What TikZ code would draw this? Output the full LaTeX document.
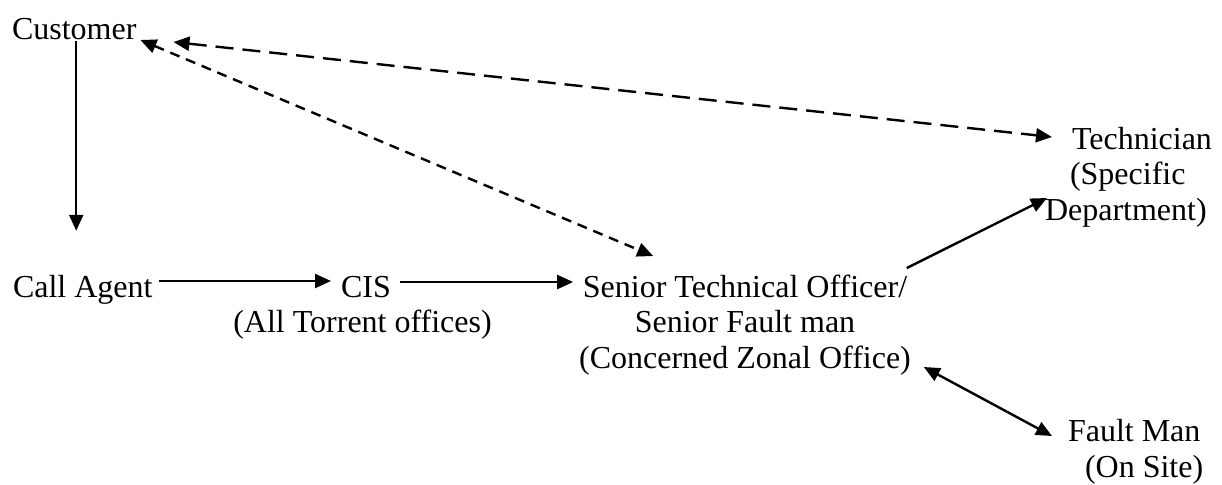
\documentclass[tikz,border=0pt]{standalone}
\usepackage{fontspec}
\setmainfont{Liberation Serif}
\usetikzlibrary{arrows.meta,calc}
\begin{document}
\begin{tikzpicture}[x=0.5pt,y=-0.5pt,
  lbl/.style={inner sep=0pt, outer sep=0pt, font=\fontsize{16}{17.6}\selectfont},
  tipA/.tip={Triangle[length=8pt,width=7pt]},
  conn/.style={line width=1.2pt, -tipA},
  bconn/.style={line width=1.2pt, tipA-tipA},
  longdash/.style={dash pattern=on 9pt off 4.5pt},
  shortdash/.style={dash pattern=on 5pt off 3.5pt}]
\useasboundingbox (0,0) rectangle (1222,484);

\node[lbl, anchor=base west] (cust) at (12,39) {Customer};
\node[lbl, anchor=base west] (call) at (13,297) {Call Agent};
\node[lbl, anchor=base west] (cis) at (341,297) {CIS};
\node[lbl, anchor=base] (allt) at (362.5,332) {(All Torrent offices)};
\node[lbl, anchor=base, align=center] (sen) at (745,368)
  {Senior Technical Officer/\\Senior Fault man\\(Concerned Zonal Office)};
\node[lbl, anchor=base west, align=left] (tech) at (1045,220)
  {\hspace{13.5pt}Technician\\\hspace{12.5pt}(Specific\\Department)};
\node[lbl, anchor=base west, align=left] (fault) at (1068,477)
  {Fault Man\\\hspace{8.5pt}(On Site)};

% solid flow
\draw[conn] ($(cust.south)+(2,2)$) -- ($(cust.south |- call.north)+(2,-44)$);
\draw[conn] ($(call.base east)+(6,-16)$) -- ($(cis.base west)+(-10,-16)$);
\draw[conn] ($(cis.base east)+(9,-15)$) -- ($(sen.base west)+(-6,-86)$);
\draw[conn] ($(sen.base east)+(-4,-100)$) -- ($(tech.base west)+(2,-22)$);
\draw[bconn] ($(sen.base east)+(13,-1)$) -- ($(fault.base west)+(-16,-41)$);

% dashed links
\draw[bconn, longdash] ($(cust.base east)+(37,3)$) -- ($(tech.base west)+(7,-83)$);
\draw[bconn, shortdash] ($(cust.base east)+(4,1)$) -- ($(sen.base west)+(74,-112)$);
\end{tikzpicture}
\end{document}
